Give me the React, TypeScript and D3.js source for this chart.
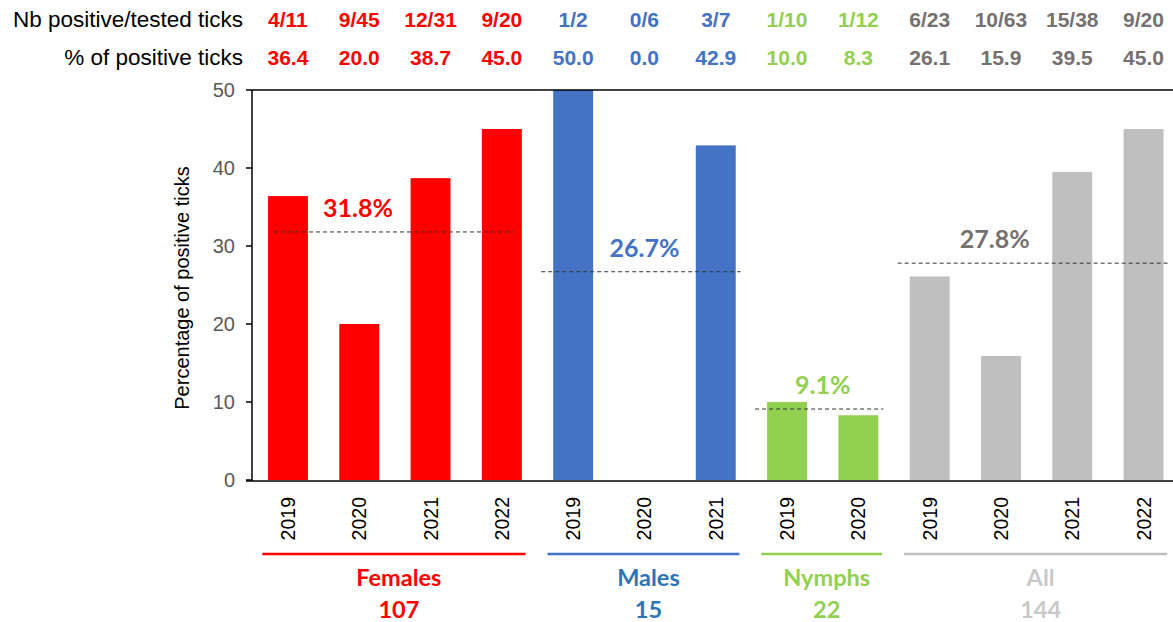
import React from "react";
import * as d3 from "d3";

const groups = ["Females", "Males", "Nymphs", "All"];
const groupTotals = [107, 15, 22, 144];
const groupMeans = [31.8, 26.7, 9.1, 27.8];
const groupYears = [
  ["2019", "2020", "2021", "2022"],
  ["2019", "2020", "2021"],
  ["2019", "2020"],
  ["2019", "2020", "2021", "2022"],
];
const positives = [4, 9, 12, 9, 1, 0, 3, 1, 1, 6, 10, 15, 9];
const tested = [11, 45, 31, 20, 2, 6, 7, 10, 12, 23, 63, 38, 20];
const percents = [36.4, 20.0, 38.7, 45.0, 50.0, 0.0, 42.9, 10.0, 8.3, 26.1, 15.9, 39.5, 45.0];
const yTicks = [0, 10, 20, 30, 40, 50];

const barColors = ["#ff0000", "#4472c4", "#92d050", "#bfbfbf"];
const headColors = ["#ff0000", "#4472c4", "#92d050", "#767171"];
const meanColors = ["#ff0000", "#4472c4", "#92d050", "#767171"];
const nameColors = ["#ff0000", "#2e75b6", "#92d050", "#c9c9c9"];

const W = 1173, H = 622;
const arial = "'Liberation Sans', Arial, sans-serif";
const calibri = "Lato, 'Open Sans', sans-serif";

export default function App() {
  const bars = groups.flatMap((g, gi) =>
    groupYears[gi].map((yr) => ({ key: `${g}-${yr}`, group: gi, year: yr }))
  );
  bars.forEach((b, i) => Object.assign(b, { value: percents[i], pos: positives[i], n: tested[i] }));

  const step = 71.3;
  const x = d3.scaleBand<string>()
    .domain(bars.map(b => b.key))
    .range([252.3, 252.3 + step * bars.length])
    .paddingInner(0.44)
    .paddingOuter(0.22);

  const y = d3.scaleLinear().domain([0, 50]).range([480, 90]);
  const bw = x.bandwidth();
  const cx = (k: string) => (x(k) as number) + bw / 2;

  const groupSpan = (gi: number) => {
    const ks = bars.filter(b => b.group === gi).map(b => b.key);
    return [cx(ks[0]) - bw / 2, cx(ks[ks.length - 1]) + bw / 2];
  };

  return (
    <div style={{ position: "absolute", left: 0, top: 0 }}>
      <svg width={W} height={H} style={{ display: "block", background: "#fff" }}>
        {/* header rows */}
        <text x={243} y={27} textAnchor="end" fontFamily={arial} fontSize={22.5} fill="#000">
          Nb positive/tested ticks
        </text>
        <text x={243} y={65} textAnchor="end" fontFamily={arial} fontSize={22.5} fill="#000">
          % of positive ticks
        </text>
        {bars.map((b: any) => (
          <g key={"h" + b.key} fontFamily={arial} fontWeight="bold" fontSize={21}
            fill={headColors[b.group]} textAnchor="middle">
            <text x={cx(b.key)} y={27}>{`${b.pos}/${b.n}`}</text>
            <text x={cx(b.key)} y={65}>{b.value.toFixed(1)}</text>
          </g>
        ))}

        {/* bars */}
        {bars.map((b: any) => (
          <rect key={b.key} x={x(b.key)} y={y(b.value)} width={bw}
            height={y(0) - y(b.value)} fill={barColors[b.group]} />
        ))}

        {/* axes frame */}
        <line x1={252} x2={W} y1={90} y2={90} stroke="#000" strokeWidth={1.5} />
        <line x1={252} x2={252} y1={90} y2={481} stroke="#000" strokeWidth={1.5} />
        <line x1={246} x2={W} y1={481} y2={481} stroke="#000" strokeWidth={1.5} />
        {yTicks.map(t => (
          <g key={"t" + t}>
            <line x1={246} x2={252} y1={y(t)} y2={y(t)} stroke="#000" strokeWidth={1.5} />
            <text x={235} y={y(t)} dy="0.35em" textAnchor="end" fontFamily={arial}
              fontSize={20} fill="#595959">{t}</text>
          </g>
        ))}
        <text transform={`translate(189,${288}) rotate(-90)`} textAnchor="middle"
          fontFamily={arial} fontSize={20} fill="#000">Percentage of positive ticks</text>

        {/* group means */}
        {groups.map((g, gi) => {
          const [a, b] = groupSpan(gi);
          const x1 = a - (gi === 0 ? -6 : 12);
          const x2 = b + (gi === 0 ? -8 : 5);
          const lx = gi === 0 ? a + 90 : gi === 3 ? a + 85 : (a + b) / 2;
          return (
            <g key={"m" + g}>
              <line x1={x1} x2={x2} y1={y(groupMeans[gi])} y2={y(groupMeans[gi])}
                stroke="#333" strokeWidth={1} strokeDasharray="4,3" />
              <text x={lx} y={y(groupMeans[gi]) - 15} textAnchor="middle"
                fontFamily={calibri} fontWeight="bold" fontSize={25}
                fill={meanColors[gi]}>{`${groupMeans[gi].toFixed(1)}%`}</text>
            </g>
          );
        })}

        {/* year labels */}
        {bars.map((b: any) => (
          <text key={"y" + b.key} transform={`translate(${cx(b.key) + 7},497) rotate(-90)`}
            textAnchor="end" fontFamily={arial} fontSize={19.5} fill="#000">{b.year}</text>
        ))}

        {/* group underline and names */}
        {groups.map((g, gi) => {
          const [a, b] = groupSpan(gi);
          const pad = (step - bw) / 2;
          const mid = (a + b) / 2;
          return (
            <g key={"g" + g}>
              <line x1={a - pad + 10} x2={b + pad - 12} y1={554} y2={554}
                stroke={barColors[gi]} strokeWidth={2.5} />
              <text x={mid + 4} y={586} textAnchor="middle" fontFamily={calibri}
                fontWeight="bold" fontSize={23.5} fill={nameColors[gi]}>{g}</text>
              <text x={mid + 4} y={618} textAnchor="middle" fontFamily={calibri}
                fontWeight="bold" fontSize={23.5} fill={nameColors[gi]}>{groupTotals[gi]}</text>
            </g>
          );
        })}
      </svg>
    </div>
  );
}
